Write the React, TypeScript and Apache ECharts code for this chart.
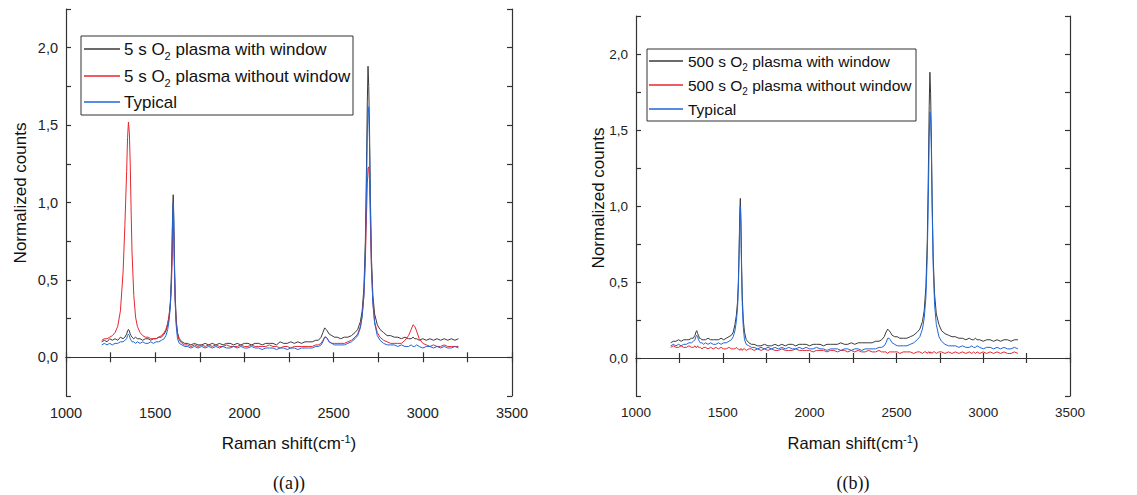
import React, { useEffect, useRef } from "react";
import * as echarts from "echarts";

// Raman shift grid (cm-1), shared by all spectra
const ramanShift: number[] = [
  1200, 1215, 1230, 1245, 1260, 1275, 1290, 1305, 1320, 1330,
  1340, 1345, 1350, 1355, 1360, 1365, 1370, 1380, 1390, 1400,
  1415, 1430, 1445, 1460, 1475, 1490, 1505, 1520, 1535, 1550,
  1560, 1570, 1578, 1585, 1590, 1594, 1598, 1601, 1604, 1608,
  1612, 1618, 1625, 1635, 1650, 1665, 1680, 1700, 1720, 1740,
  1760, 1780, 1800, 1820, 1840, 1860, 1880, 1900, 1920, 1940,
  1960, 1980, 2000, 2020, 2040, 2060, 2080, 2100, 2120, 2140,
  2160, 2180, 2200, 2220, 2240, 2260, 2280, 2300, 2320, 2340,
  2360, 2380, 2400, 2415, 2430, 2440, 2450, 2458, 2465, 2475,
  2490, 2505, 2520, 2540, 2560, 2580, 2600, 2620, 2635, 2650,
  2660, 2670, 2678, 2684, 2689, 2693, 2697, 2701, 2706, 2712,
  2720, 2730, 2745, 2760, 2780, 2800, 2820, 2840, 2860, 2880,
  2900, 2920, 2935, 2945, 2955, 2965, 2980, 3000, 3020, 3040,
  3060, 3080, 3100, 3120, 3140, 3160, 3180, 3200,
];

const withWindow5s: number[] = [
  0.10, 0.11, 0.10, 0.12, 0.11, 0.12, 0.11, 0.13, 0.12, 0.13,
  0.15, 0.17, 0.18, 0.17, 0.15, 0.14, 0.13, 0.12, 0.13, 0.12,
  0.12, 0.11, 0.12, 0.12, 0.11, 0.12, 0.12, 0.13, 0.13, 0.15,
  0.17, 0.21, 0.27, 0.36, 0.50, 0.70, 0.95, 1.05, 0.92, 0.62,
  0.40, 0.24, 0.16, 0.12, 0.10, 0.09, 0.09, 0.08, 0.09, 0.08,
  0.08, 0.09, 0.08, 0.09, 0.08, 0.09, 0.08, 0.09, 0.09, 0.08,
  0.09, 0.08, 0.09, 0.09, 0.08, 0.09, 0.09, 0.08, 0.09, 0.09,
  0.09, 0.08, 0.10, 0.09, 0.09, 0.10, 0.09, 0.10, 0.09, 0.10,
  0.10, 0.10, 0.11, 0.11, 0.13, 0.16, 0.19, 0.18, 0.17, 0.15,
  0.14, 0.13, 0.13, 0.12, 0.13, 0.13, 0.14, 0.16, 0.18, 0.23,
  0.30, 0.45, 0.75, 1.20, 1.65, 1.88, 1.75, 1.50, 1.05, 0.65,
  0.40, 0.28, 0.21, 0.18, 0.16, 0.14, 0.14, 0.13, 0.13, 0.12,
  0.13, 0.12, 0.12, 0.13, 0.12, 0.12, 0.11, 0.12, 0.11, 0.12,
  0.11, 0.12, 0.11, 0.12, 0.11, 0.12, 0.11, 0.12,
];

const withoutWindow5s: number[] = [
  0.11, 0.12, 0.12, 0.13, 0.14, 0.16, 0.20, 0.30, 0.55, 0.85,
  1.20, 1.42, 1.52, 1.45, 1.25, 0.95, 0.68, 0.40, 0.26, 0.20,
  0.16, 0.14, 0.13, 0.13, 0.12, 0.12, 0.12, 0.13, 0.14, 0.16,
  0.18, 0.22, 0.27, 0.34, 0.44, 0.58, 0.78, 0.88, 0.80, 0.56,
  0.36, 0.22, 0.15, 0.11, 0.09, 0.08, 0.08, 0.07, 0.08, 0.07,
  0.08, 0.07, 0.08, 0.07, 0.08, 0.07, 0.07, 0.08, 0.07, 0.07,
  0.07, 0.08, 0.07, 0.07, 0.08, 0.07, 0.07, 0.07, 0.07, 0.08,
  0.07, 0.07, 0.06, 0.07, 0.07, 0.06, 0.07, 0.07, 0.07, 0.07,
  0.07, 0.07, 0.08, 0.08, 0.09, 0.11, 0.13, 0.13, 0.12, 0.10,
  0.09, 0.09, 0.09, 0.09, 0.09, 0.10, 0.11, 0.13, 0.15, 0.20,
  0.27, 0.40, 0.62, 0.90, 1.12, 1.22, 1.23, 1.15, 0.88, 0.58,
  0.36, 0.23, 0.16, 0.13, 0.11, 0.10, 0.09, 0.09, 0.09, 0.09,
  0.11, 0.14, 0.18, 0.21, 0.20, 0.17, 0.12, 0.09, 0.08, 0.07,
  0.08, 0.07, 0.07, 0.08, 0.07, 0.07, 0.07, 0.07,
];

const typical: number[] = [
  0.08, 0.09, 0.08, 0.09, 0.08, 0.09, 0.09, 0.10, 0.10, 0.11,
  0.12, 0.14, 0.15, 0.14, 0.12, 0.11, 0.10, 0.10, 0.09, 0.10,
  0.09, 0.10, 0.09, 0.09, 0.10, 0.09, 0.10, 0.10, 0.11, 0.12,
  0.14, 0.18, 0.24, 0.33, 0.47, 0.68, 0.92, 1.00, 0.88, 0.58,
  0.36, 0.20, 0.12, 0.09, 0.08, 0.07, 0.07, 0.06, 0.07, 0.06,
  0.07, 0.06, 0.07, 0.06, 0.07, 0.06, 0.07, 0.06, 0.06, 0.07,
  0.06, 0.07, 0.06, 0.06, 0.07, 0.06, 0.06, 0.05, 0.06, 0.06,
  0.06, 0.05, 0.06, 0.06, 0.05, 0.06, 0.06, 0.05, 0.06, 0.06,
  0.06, 0.06, 0.07, 0.07, 0.08, 0.10, 0.13, 0.13, 0.12, 0.10,
  0.09, 0.08, 0.08, 0.08, 0.08, 0.09, 0.10, 0.12, 0.14, 0.19,
  0.26, 0.40, 0.68, 1.05, 1.45, 1.62, 1.58, 1.40, 0.98, 0.60,
  0.35, 0.22, 0.14, 0.11, 0.09, 0.08, 0.08, 0.08, 0.07, 0.08,
  0.07, 0.07, 0.08, 0.07, 0.07, 0.08, 0.07, 0.06, 0.07, 0.07,
  0.06, 0.07, 0.06, 0.07, 0.06, 0.06, 0.07, 0.06,
];

const withWindow500s: number[] = [
  0.10, 0.11, 0.11, 0.12, 0.11, 0.12, 0.12, 0.12, 0.13, 0.13,
  0.15, 0.17, 0.18, 0.16, 0.15, 0.13, 0.13, 0.12, 0.12, 0.12,
  0.13, 0.12, 0.12, 0.12, 0.12, 0.13, 0.12, 0.13, 0.14, 0.15,
  0.17, 0.22, 0.28, 0.37, 0.52, 0.72, 0.96, 1.05, 0.93, 0.63,
  0.41, 0.25, 0.17, 0.12, 0.10, 0.09, 0.09, 0.08, 0.08, 0.09,
  0.08, 0.08, 0.09, 0.08, 0.09, 0.08, 0.09, 0.09, 0.08, 0.09,
  0.09, 0.09, 0.08, 0.09, 0.09, 0.09, 0.08, 0.09, 0.09, 0.09,
  0.09, 0.10, 0.09, 0.09, 0.10, 0.09, 0.10, 0.10, 0.10, 0.10,
  0.10, 0.11, 0.11, 0.12, 0.14, 0.17, 0.19, 0.18, 0.17, 0.15,
  0.14, 0.14, 0.13, 0.13, 0.13, 0.14, 0.15, 0.17, 0.19, 0.24,
  0.31, 0.47, 0.78, 1.22, 1.66, 1.88, 1.74, 1.48, 1.04, 0.66,
  0.42, 0.29, 0.22, 0.18, 0.16, 0.15, 0.14, 0.14, 0.13, 0.13,
  0.12, 0.13, 0.12, 0.12, 0.13, 0.12, 0.12, 0.11, 0.12, 0.12,
  0.11, 0.12, 0.11, 0.12, 0.12, 0.11, 0.12, 0.12,
];

const withoutWindow500s: number[] = [
  0.07, 0.08, 0.07, 0.07, 0.08, 0.07, 0.07, 0.08, 0.07, 0.07,
  0.08, 0.07, 0.07, 0.08, 0.07, 0.07, 0.07, 0.06, 0.07, 0.07,
  0.06, 0.07, 0.06, 0.07, 0.06, 0.07, 0.06, 0.06, 0.07, 0.06,
  0.06, 0.06, 0.07, 0.06, 0.06, 0.06, 0.05, 0.06, 0.06, 0.06,
  0.05, 0.06, 0.06, 0.05, 0.06, 0.06, 0.05, 0.06, 0.05, 0.06,
  0.05, 0.06, 0.05, 0.05, 0.06, 0.05, 0.05, 0.05, 0.06, 0.05,
  0.05, 0.05, 0.05, 0.04, 0.05, 0.05, 0.05, 0.04, 0.05, 0.05,
  0.04, 0.05, 0.05, 0.04, 0.05, 0.04, 0.05, 0.04, 0.04, 0.05,
  0.04, 0.04, 0.05, 0.04, 0.04, 0.04, 0.03, 0.04, 0.04, 0.04,
  0.04, 0.04, 0.03, 0.04, 0.04, 0.04, 0.03, 0.04, 0.04, 0.03,
  0.04, 0.04, 0.03, 0.04, 0.04, 0.03, 0.04, 0.04, 0.03, 0.04,
  0.04, 0.03, 0.04, 0.04, 0.03, 0.04, 0.03, 0.04, 0.03, 0.04,
  0.03, 0.04, 0.03, 0.04, 0.03, 0.04, 0.03, 0.04, 0.03, 0.04,
  0.03, 0.04, 0.03, 0.04, 0.03, 0.03, 0.04, 0.03,
];

const namesA = ["5 s O2 plasma with window", "5 s O2 plasma without window", "Typical"];
const namesB = ["500 s O2 plasma with window", "500 s O2 plasma without window", "Typical"];
const xRange = [1000, 3500];
const yRange = [-0.25, 2.25];
const captions = ["((a))", "((b))"];
const yTitle = "Normalized counts";
const xTitle = "Raman shift(cm{sup|-1})";

const BLACK = "#3a3a3a";
const RED = "#e8262e";
const BLUE = "#1f66d8";
const COLORS = [BLACK, RED, BLUE];
const FONT = "Arial, 'Liberation Sans', sans-serif";

const zip = (ys: number[]) => ramanShift.map((x, i) => [x, ys[i]]);

export default function App() {
  const ref = useRef<HTMLDivElement>(null);
  useEffect(() => {
    if (!ref.current) return;
    const chart = echarts.init(ref.current, undefined, { renderer: "svg" });

    const grids = [
      { left: 66, top: 9, width: 446, height: 387 },
      { left: 636, top: 16, width: 434, height: 380 },
    ];
    const tickFont = [14.5, 13.5];

    const axisLine = { show: true, lineStyle: { color: "#333", width: 1.2 } };
    const tick = () => ({ show: true, inside: false, length: -5, lineStyle: { color: "#333", width: 1.2 } });
    const mkX = (gi: number, pos: "bottom" | "top") => ({
      type: "value",
      gridIndex: gi,
      position: pos,
      min: xRange[0],
      max: xRange[1],
      interval: 250,
      axisLine,
      axisTick: tick(),
      splitLine: { show: false },
      axisLabel: {
        show: pos === "bottom",
        color: "#222",
        fontSize: tickFont[gi],
        fontFamily: FONT,
        margin: 9,
        formatter: (v: number) => (Math.round(v) % 500 === 0 ? String(Math.round(v)) : ""),
      },
    });
    const mkY = (gi: number, pos: "left" | "right") => ({
      type: "value",
      gridIndex: gi,
      position: pos,
      min: yRange[0],
      max: yRange[1],
      interval: 0.25,
      axisLine,
      axisTick: tick(),
      splitLine: { show: false },
      axisLabel: {
        show: pos === "left",
        color: "#222",
        fontSize: tickFont[gi],
        fontFamily: FONT,
        margin: 8,
        formatter: (v: number) => {
          const d = v * 2;
          if (Math.abs(d - Math.round(d)) > 1e-6) return "";
          if (v < -1e-9 || v > 2.0001) return "";
          return v.toFixed(1).replace(".", ",");
        },
      },
    });

    const lineSeries = (name: string, ys: number[], color: string, gi: number) => ({
      type: "line",
      name,
      data: zip(ys),
      xAxisIndex: gi * 2,
      yAxisIndex: gi * 2,
      symbol: "none",
      showSymbol: false,
      lineStyle: { color, width: 1 },
      itemStyle: { color },
      silent: true,
    });

    const text = (t: string, x: number, y: number, extra: any = {}) => ({
      type: "text",
      x,
      y,
      silent: true,
      ...extra,
      style: {
        text: t,
        fontSize: 17,
        fontFamily: FONT,
        fill: "#111",
        align: "center",
        verticalAlign: "middle",
        rich: { sup: { fontSize: 11, fontFamily: FONT, fill: "#111", padding: [0, 0, 9, 0] } },
        ...(extra.style || {}),
      },
    });
    const serif = "'Liberation Serif', 'Times New Roman', serif";

    // Legend drawn as graphic elements (box, line keys, rich texts with subscripts)
    const legendGraphic = (
      names: string[],
      box: { x: number; y: number; w: number; h: number },
      lineX: [number, number],
      textX: number,
      rowsY: number[],
      fontSize: number
    ) => {
      const subSize = Math.round(fontSize * 0.65);
      const els: any[] = [
        {
          type: "rect",
          silent: true,
          shape: { x: box.x, y: box.y, width: box.w, height: box.h },
          style: { fill: "none", stroke: "#333", lineWidth: 1 },
        },
      ];
      names.forEach((n, i) => {
        els.push({
          type: "line",
          silent: true,
          shape: { x1: lineX[0], y1: rowsY[i], x2: lineX[1], y2: rowsY[i] },
          style: { stroke: COLORS[i], lineWidth: 1.6 },
        });
        els.push(
          text(n.replace("O2", "O{sub|2}"), textX, rowsY[i], {
            style: {
              align: "left",
              fontSize,
              rich: {
                sub: {
                  fontSize: subSize,
                  fontFamily: FONT,
                  fill: "#111",
                  padding: [Math.round(fontSize * 0.76), 0, 0, 0],
                },
              },
            },
          })
        );
      });
      return els;
    };

    chart.setOption({
      animation: false,
      backgroundColor: "#fff",
      grid: grids,
      xAxis: [mkX(0, "bottom"), mkX(0, "top"), mkX(1, "bottom"), mkX(1, "top")],
      yAxis: [mkY(0, "left"), mkY(0, "right"), mkY(1, "left"), mkY(1, "right")],
      series: [
        lineSeries(namesA[0], withWindow5s, BLACK, 0),
        lineSeries(namesA[1], withoutWindow5s, RED, 0),
        lineSeries(namesA[2], typical, BLUE, 0),
        lineSeries(namesB[0], withWindow500s, BLACK, 1),
        lineSeries(namesB[1], withoutWindow500s, RED, 1),
        lineSeries(namesB[2], typical, BLUE, 1),
      ],
      graphic: [
        ...legendGraphic(namesA, { x: 81, y: 36, w: 272, h: 79 }, [84, 120], 124, [49, 76, 102], 17),
        ...legendGraphic(namesB, { x: 647, y: 49, w: 269, h: 72 }, [649, 683], 688, [61, 85, 109], 15.5),
        text(xTitle, 289, 443),
        text(xTitle, 853, 443, { style: { fontSize: 16.5 } }),
        text(yTitle, 20, 193, { rotation: Math.PI / 2 }),
        text(yTitle, 598, 198, { rotation: Math.PI / 2 }),
        text(captions[0], 289, 483, { style: { fontFamily: serif, fontSize: 18 } }),
        text(captions[1], 853, 483, { style: { fontFamily: serif, fontSize: 18 } }),
      ],
    });
    return () => chart.dispose();
  }, []);

  return (
    <div
      ref={ref}
      style={{ position: "absolute", left: 0, top: 0, width: 1137, height: 495, background: "#fff" }}
    />
  );
}
